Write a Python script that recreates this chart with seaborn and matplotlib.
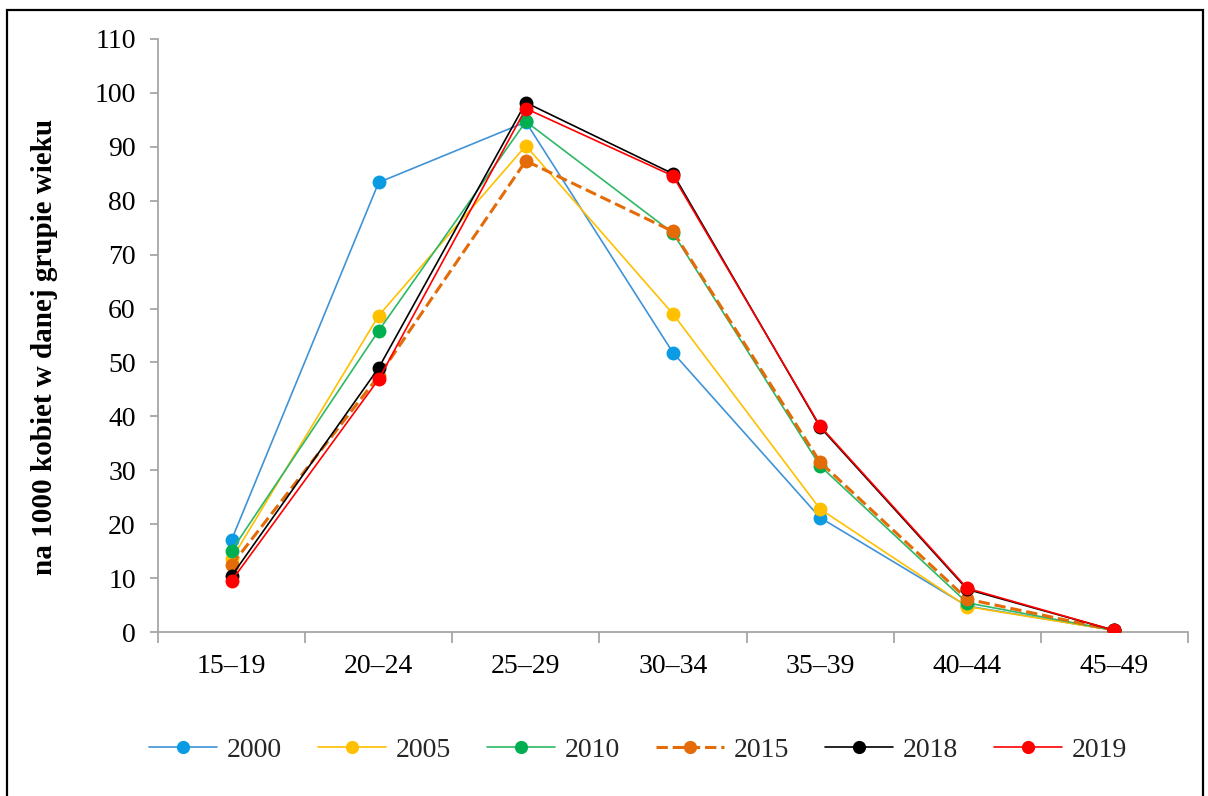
import matplotlib
matplotlib.use("Agg")
import matplotlib.pyplot as plt
import matplotlib.patches as mpatches
import seaborn as sns
import pandas as pd

# ---- data ----
age_groups = ["15–19", "20–24", "25–29", "30–34", "35–39", "40–44", "45–49"]
years = ["2000", "2005", "2010", "2015", "2018", "2019"]
v2000 = [17.1, 83.4, 94.6, 51.8, 21.2, 4.8, 0.3]
v2005 = [13.5, 58.7, 90.2, 59.0, 22.8, 4.7, 0.3]
v2010 = [15.1, 55.9, 94.7, 74.0, 30.8, 5.4, 0.3]
v2015 = [12.4, 47.5, 87.4, 74.3, 31.5, 6.1, 0.3]
v2018 = [10.4, 49.0, 98.2, 85.0, 38.0, 7.9, 0.3]
v2019 = [9.5, 46.9, 97.1, 84.6, 38.2, 8.1, 0.3]
series = [v2000, v2005, v2010, v2015, v2018, v2019]
y_ticks = list(range(0, 111, 10))

line_colors = ["#3F93D6", "#FFC000", "#2DB864", "#E36C09", "#000000", "#FF0000"]
marker_colors = ["#0A9BE2", "#FFC000", "#00B050", "#E36C09", "#000000", "#FF0000"]
styles = ["-", "-", "-", "--", "-", "-"]
widths = [1.2, 1.2, 1.2, 2.2, 1.2, 1.2]

rows = []
for yr, vals in zip(years, series):
    for i, v in enumerate(vals):
        rows.append({"pos": i, "value": v, "year": yr})
df = pd.DataFrame(rows)

sns.set_theme(style="white")
plt.rcParams["font.family"] = ["Liberation Serif", "DejaVu Serif"]

fig = plt.figure(figsize=(12.08, 7.96), dpi=100)
ax = fig.add_axes([158 / 1208, 1 - 632 / 796, 1030 / 1208, 593 / 796])

for k, yr in enumerate(years):
    sub = df[df["year"] == yr]
    sns.lineplot(data=sub, x="pos", y="value", ax=ax, color=line_colors[k],
                 linestyle=styles[k], linewidth=widths[k], marker="o",
                 markersize=10, markerfacecolor=marker_colors[k],
                 markeredgecolor=marker_colors[k], markeredgewidth=0,
                 label=yr, sort=False, zorder=3 + k)

ax.set_xlim(-0.5, len(age_groups) - 0.5)
ax.set_ylim(0, 110)
ax.set_yticks(y_ticks)
ax.set_xticks(range(len(age_groups)))
ax.set_xticklabels(age_groups)
ax.set_xticks([i - 0.5 for i in range(len(age_groups) + 1)], minor=True)
ax.set_xlabel("")
ax.tick_params(axis="x", which="major", length=0, pad=16, labelsize=20, colors="black")
ax.tick_params(axis="x", which="minor", length=8, width=1.3, color="#A6A6A6", direction="out", bottom=True)
ax.tick_params(axis="y", which="major", length=6, width=1.3, color="#A6A6A6", direction="out",
               left=True, pad=10, labelsize=20, labelcolor="black")

for s in ["top", "right"]:
    ax.spines[s].set_visible(False)
for s in ["left", "bottom"]:
    ax.spines[s].set_color("#A6A6A6")
    ax.spines[s].set_linewidth(1.3)

ax.set_ylabel("na 1000 kobiet w danej grupie wieku", fontsize=21, fontweight="bold",
              color="black", va="center")
ax.yaxis.set_label_coords((45 - 158) / 1030, (632 - 347) / 593)

leg = ax.legend(loc="center", bbox_to_anchor=(638 / 1208, 1 - 750 / 796),
                bbox_transform=fig.transFigure, ncol=6, frameon=False,
                fontsize=20, handlelength=2.45, handletextpad=0.35,
                columnspacing=1.3, markerscale=0.95)

fig.patches.append(mpatches.Rectangle((7 / 1208, -0.02), 1196 / 1208, 0.02 + (1 - 10 / 796),
                                      transform=fig.transFigure, fill=False,
                                      edgecolor="black", linewidth=1.6))

fig.savefig("out.png", dpi=100)
